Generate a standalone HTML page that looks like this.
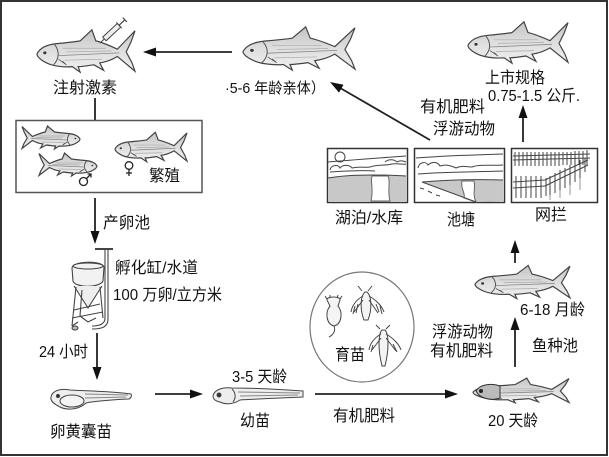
<!DOCTYPE html>
<html>
<head>
<meta charset="utf-8">
<style>
html,body{margin:0;padding:0;background:#fff;}
svg{display:block;}
text{font-family:"Liberation Sans","Noto Sans CJK SC","WenQuanYi Zen Hei",sans-serif;fill:#111;font-size:16px;}
</style>
</head>
<body>
<svg width="609" height="457" viewBox="0 0 609 457" xmlns="http://www.w3.org/2000/svg">
<defs>
  <linearGradient id="fg" x1="0" y1="0" x2="0" y2="1">
    <stop offset="0" stop-color="#c4c4c4"/>
    <stop offset="0.5" stop-color="#dedede"/>
    <stop offset="1" stop-color="#f0f0f0"/>
  </linearGradient>
  <g id="fish">
    <path d="M0,28 C3,22 10,18 20,17 C30,16 38,15 44,14 L56,2 L60,14 C68,16 76,20 82,23 L100,3 L96,15 L91,26 L97,38 L100,47 L82,31 C76,35 70,37 64,38 L68,46 L58,40 C52,41 46,42 42,42 L44,48 L36,42 C26,43 14,41 8,37 C3,34 0,31 0,28 Z" fill="url(#fg)" stroke="#444" stroke-width="1.2" vector-effect="non-scaling-stroke"/>
    <circle cx="8" cy="27" r="1.6" fill="#333"/>
    <path d="M18,18 C23,25 23,33 17,40" fill="none" stroke="#555" stroke-width="1" vector-effect="non-scaling-stroke"/>
    <path d="M22,30 C45,29 65,28 84,27" fill="none" stroke="#888" stroke-width="0.8" vector-effect="non-scaling-stroke"/>
    <path d="M26,22 L70,22 M28,35 L66,34 M30,26 L76,25" fill="none" stroke="#aaa" stroke-width="0.7" vector-effect="non-scaling-stroke"/>
    <path d="M22,34 L30,40 L26,36" fill="none" stroke="#555" stroke-width="0.8" vector-effect="non-scaling-stroke"/>
  </g>
</defs>

<rect x="1" y="1" width="606" height="454" fill="#fff" stroke="#333" stroke-width="2"/>

<!-- Fish 1 with syringe -->
<g transform="translate(37,28) scale(0.98,0.92)"><use href="#fish"/></g>
<g transform="translate(100,43) rotate(-43)">
  <rect x="6" y="-2.5" width="20" height="5" fill="#eee" stroke="#444" stroke-width="1"/>
  <line x1="0" y1="0" x2="6" y2="0" stroke="#444" stroke-width="1"/>
  <line x1="26" y1="0" x2="34" y2="0" stroke="#444" stroke-width="1.2"/>
  <line x1="34" y1="-3" x2="34" y2="3" stroke="#444" stroke-width="1.2"/>
  <line x1="26" y1="-4" x2="26" y2="4" stroke="#444" stroke-width="1"/>
</g>

<!-- Fish 2 -->
<g transform="translate(243,25) scale(1.12,0.94)"><use href="#fish"/></g>
<!-- Top right fish -->
<g transform="translate(468,20) scale(1.0,0.9)"><use href="#fish"/></g>

<!-- Arrow left -->
<line x1="232" y1="52" x2="154" y2="52" stroke="#222" stroke-width="1.8"/>
<polygon points="143,52 156,47.5 156,56.5" fill="#111"/>

<text x="53" y="93" textLength="64" lengthAdjust="spacingAndGlyphs">注射激素</text>
<text x="225" y="93" textLength="100" lengthAdjust="spacingAndGlyphs" style="font-size:15px">·5-6 年龄亲体）</text>

<!-- Arrow down to box -->
<line x1="95" y1="98" x2="95" y2="122" stroke="#222" stroke-width="1.8"/>
<polygon points="95,133 90.5,120 99.5,120" fill="#111"/>

<!-- Breeding box -->
<rect x="16" y="120.5" width="186" height="72" fill="#fff" stroke="#555" stroke-width="1.5"/>
<g transform="translate(80,125) scale(-0.58,0.5)"><use href="#fish"/></g>
<g transform="translate(97,152) scale(-0.58,0.5)"><use href="#fish"/></g>
<g transform="translate(115,131) scale(0.72,0.64)"><use href="#fish"/></g>
<!-- male symbol -->
<circle cx="83.5" cy="181.5" r="4" fill="none" stroke="#222" stroke-width="1.3"/>
<line x1="86.5" y1="178.5" x2="91" y2="174" stroke="#222" stroke-width="1.3"/>
<polyline points="87.5,174 91,174 91,177.5" fill="none" stroke="#222" stroke-width="1.3"/>
<!-- female symbol -->
<circle cx="129" cy="165.5" r="3.8" fill="none" stroke="#222" stroke-width="1.3"/>
<line x1="129" y1="169.3" x2="129" y2="176" stroke="#222" stroke-width="1.3"/>
<line x1="126" y1="173" x2="132" y2="173" stroke="#222" stroke-width="1.3"/>
<text x="149" y="181" textLength="31" lengthAdjust="spacingAndGlyphs">繁殖</text>

<!-- Arrow down to tank -->
<line x1="95" y1="198" x2="95" y2="233" stroke="#222" stroke-width="1.8"/>
<polygon points="95,244 90.5,231 99.5,231" fill="#111"/>
<text x="103" y="228" textLength="47" lengthAdjust="spacingAndGlyphs">产卵池</text>

<!-- Hatching tank -->
<g stroke="#444" stroke-width="1.1" fill="none">
  <line x1="95" y1="249" x2="113" y2="249" stroke-width="2"/>
  <path d="M105,250 L105,318 C105,324 100,326 92,326"/>
  <path d="M108,250 L108,319 C108,327 102,329 92,329"/>
  <path d="M72,268 C72,261 102,260 104,267 L103,281 C100,288 75,288 73,281 Z" fill="#f2f2f2"/>
  <ellipse cx="88" cy="266" rx="15" ry="3"/>
  <path d="M74,286 L88,308 L102,286" fill="#eee"/>
  <line x1="76" y1="287" x2="72" y2="326"/>
  <line x1="100" y1="287" x2="103" y2="318"/>
  <line x1="82" y1="290" x2="80" y2="316"/>
  <line x1="72" y1="318" x2="103" y2="312"/>
  <line x1="74" y1="310" x2="100" y2="304"/>
  <path d="M72,326 L78,322 M80,316 L88,322 L96,318"/>
  <ellipse cx="75" cy="328" rx="3" ry="2" fill="#bbb"/>
</g>
<text x="115" y="273" textLength="83" lengthAdjust="spacingAndGlyphs">孵化缸/水道</text>
<text x="113" y="300" textLength="109" lengthAdjust="spacingAndGlyphs">100 万卵/立方米</text>

<!-- Arrow down 24h -->
<line x1="97" y1="333" x2="97" y2="368" stroke="#222" stroke-width="1.8"/>
<polygon points="97,380 92.5,367 101.5,367" fill="#111"/>
<text x="39" y="357" textLength="49" lengthAdjust="spacingAndGlyphs">24 小时</text>

<!-- Yolk sac larva -->
<g stroke="#444" stroke-width="1" fill="#eee">
  <path d="M51,397 C52,391 60,388 70,390 C85,391 110,391 131,394 C132,396 131,398 129,399 C110,400 95,401 86,403 C80,409 68,411 60,407 C54,404 50,401 51,397 Z"/>
  <ellipse cx="72" cy="401" rx="12" ry="6" fill="#f4f4f4"/>
  <circle cx="58" cy="396" r="1.6" fill="#333"/>
  <path d="M85,394 L128,395 M85,398 L126,397" fill="none" stroke="#888"/>
</g>
<text x="50" y="437" textLength="62" lengthAdjust="spacingAndGlyphs">卵黄囊苗</text>

<!-- Arrow right 1 -->
<line x1="155" y1="394" x2="191" y2="394" stroke="#222" stroke-width="1.8"/>
<polygon points="203,394 190,389.5 190,398.5" fill="#111"/>

<!-- Larva -->
<g stroke="#444" stroke-width="1" fill="#eee">
  <path d="M213,396 C214,390 222,387 232,388 C250,388 275,389 303,391 L303,397 C280,398 255,399 240,400 C234,404 226,405 220,402 C215,401 213,399 213,396 Z"/>
  <circle cx="219" cy="395" r="2" fill="#333"/>
  <path d="M232,389 C236,393 236,398 233,402" fill="none"/>
  <path d="M238,392 L300,393 M240,396 L298,395" fill="none" stroke="#888"/>
</g>
<text x="232" y="382" textLength="55" lengthAdjust="spacingAndGlyphs">3-5 天龄</text>
<text x="240" y="426" textLength="30" lengthAdjust="spacingAndGlyphs">幼苗</text>

<!-- Circle with plankton -->
<ellipse cx="362" cy="327" rx="52" ry="55" fill="#fff" stroke="#777" stroke-width="1.2"/>
<g stroke="#444" stroke-width="1" fill="none">
  <!-- rotifer -->
  <path d="M327,300 C326,296 341,296 340,300 L338,306 C343,312 342,324 334,326 C326,324 325,312 330,306 Z" fill="#f4f4f4"/>
  <path d="M327,299 L325,296 M330,298 L330,295 M337,298 L338,295 M340,299 L342,296"/>
  <path d="M334,326 C336,331 333,335 329,337"/>
  <!-- crustacean 1 -->
  <path d="M365,292 C360,296 360,310 364,320 L368,320 C372,310 372,296 367,292 Z" fill="#f4f4f4"/>
  <path d="M363,296 C356,300 352,306 351,312 M369,296 C376,300 382,306 384,312 M363,300 L354,312 M369,300 L378,313 M362,291 L358,286 M368,291 L372,286"/>
  <path d="M355,306 L353,314 M358,304 L356,313 M376,304 L379,312 M380,306 L382,314"/>
  <!-- crustacean 2 -->
  <path d="M382,330 C378,334 378,350 382,366 L385,366 C389,350 389,334 385,330 Z" fill="#f4f4f4"/>
  <path d="M381,334 C374,338 370,344 369,350 M386,334 C393,338 399,344 401,350 M381,338 L372,350 M386,338 L396,351 M380,329 L376,325 M386,329 L390,325"/>
  <path d="M373,345 L371,352 M393,344 L397,352"/>
</g>
<text x="335" y="360" textLength="30" lengthAdjust="spacingAndGlyphs">育苗</text>

<!-- Arrow right 2 -->
<line x1="315" y1="394" x2="446" y2="394" stroke="#222" stroke-width="1.8"/>
<polygon points="458,394 445,389.5 445,398.5" fill="#111"/>
<text x="333" y="421" textLength="62" lengthAdjust="spacingAndGlyphs">有机肥料</text>

<!-- 20-day fish -->
<g transform="translate(473,377) scale(0.96,0.54)"><use href="#fish"/></g>
<path d="M476,391 C480,384 492,383 500,386 L500,398 C492,401 480,399 476,391 Z" fill="#bbb" stroke="#333" stroke-width="1"/>
<circle cx="481" cy="391" r="2" fill="#222"/>
<text x="488" y="426" textLength="50" lengthAdjust="spacingAndGlyphs">20 天龄</text>

<!-- Arrow up 1 -->
<line x1="515" y1="367" x2="515" y2="328" stroke="#222" stroke-width="1.8"/>
<polygon points="515,317 510.5,330 519.5,330" fill="#111"/>
<text x="432" y="337" textLength="61" lengthAdjust="spacingAndGlyphs">浮游动物</text>
<text x="430" y="356" textLength="63" lengthAdjust="spacingAndGlyphs">有机肥料</text>
<text x="532" y="351" textLength="46" lengthAdjust="spacingAndGlyphs">鱼种池</text>

<!-- 6-18 month fish -->
<g transform="translate(475,264) scale(0.95,0.72)"><use href="#fish"/></g>
<text x="520" y="315" textLength="65" lengthAdjust="spacingAndGlyphs">6-18 月龄</text>

<!-- Arrow up 2 -->
<line x1="515" y1="263" x2="515" y2="251" stroke="#222" stroke-width="1.8"/>
<polygon points="515,240 510.5,253 519.5,253" fill="#111"/>

<!-- Box 1 lake -->
<g stroke="#444" stroke-width="1" fill="none">
  <rect x="327.5" y="148.5" width="80" height="54" fill="#fff" stroke="#333" stroke-width="1.5"/>
  <path d="M328,178 C345,175 370,174 406,176 L406,201 L328,201 Z" fill="#c8c8c8" stroke="none"/>
  <path d="M372,176 C370,182 374,188 371,201 L390,201 C387,190 391,182 388,176 Z" fill="#fff" stroke="#666"/>
  <path d="M328,178 C345,175 370,174 406,176"/>
  <circle cx="340" cy="157" r="5"/>
  <path d="M328,162 C350,160 380,158 406,156"/>
  <path d="M330,170 C331,165 338,164 340,168 C343,164 350,165 352,168 C360,166 365,168 370,167 C378,164 385,166 392,164 C398,163 403,165 406,164"/>
  <path d="M330,172 C345,171 360,170 375,171"/>
  <path d="M385,162 C388,159 394,159 397,162 C400,160 404,161 406,162"/>
</g>
<!-- Box 2 pond -->
<g stroke="#444" stroke-width="1" fill="none">
  <rect x="414.5" y="148.5" width="90" height="54" fill="#fff" stroke="#333" stroke-width="1.5"/>
  <path d="M422,182 C445,180 470,179 503,180 L503,201 L476,202 Z" fill="#c8c8c8" stroke="none"/>
  <path d="M462,181 C460,188 466,194 464,198 L476,202 C472,194 476,188 474,181 Z" fill="#fff" stroke="#666"/>
  <path d="M422,182 L476,202"/>
  <path d="M422,182 C445,180 470,179 503,180"/>
  <path d="M416,158 C440,156 470,155 503,154"/>
  <path d="M418,168 C419,162 426,161 428,165 C432,161 438,162 440,166 C446,164 452,166 456,168 C462,165 468,167 472,167 C480,164 490,166 503,165"/>
  <path d="M418,174 C440,172 470,172 503,171"/>
  <path d="M420,188 L424,189 M428,191 L432,193 M436,195 L440,196"/>
</g>
<!-- Box 3 fence -->
<g stroke="#444" stroke-width="1" fill="none">
  <rect x="511.5" y="148.5" width="86" height="54" fill="#fff" stroke="#333" stroke-width="1.5"/>
  <path d="M513,156 L590,154 M513,160 L590,158"/>
  <path d="M515,152 L515,166 M519,152 L519,166 M523,152 L523,166 M527,152 L527,166 M531,152 L531,166 M535,152 L535,166 M539,152 L539,166 M543,152 L543,166 M547,152 L547,166 M551,152 L551,166 M555,152 L555,166 M559,152 L559,166 M563,152 L563,165 M567,152 L567,165 M571,152 L571,165 M575,151 L575,165 M579,151 L579,165 M583,151 L583,165 M587,150 L587,165"/>
  <path d="M588,160 L545,180 M588,165 L545,186"/>
  <path d="M585,158 L585,172 M580,160 L580,178 M575,163 L575,182 M570,165 L570,185 M565,168 L565,188 M560,170 L560,190 M555,173 L555,193 M550,176 L550,195 M546,178 L546,196"/>
  <path d="M513,182 L545,180 M513,188 L545,186"/>
  <path d="M516,176 L516,198 M521,176 L521,198 M526,176 L526,198 M531,176 L531,198 M536,176 L536,198 M541,176 L541,198"/>
  <path d="M550,195 L550,200 M560,190 L560,198 M570,185 L570,195 M580,178 L580,190" stroke="#999"/>
</g>
<text x="335" y="223" textLength="68" lengthAdjust="spacingAndGlyphs">湖泊/水库</text>
<text x="447" y="225" textLength="28" lengthAdjust="spacingAndGlyphs">池塘</text>
<text x="535" y="220" textLength="32" lengthAdjust="spacingAndGlyphs">网拦</text>

<!-- Diagonal arrow -->
<line x1="430" y1="140" x2="341" y2="88.5" stroke="#222" stroke-width="1.8"/>
<polygon points="330,82 343.5,84.8 339,92.6" fill="#111"/>
<text x="420" y="112" textLength="65" lengthAdjust="spacingAndGlyphs">有机肥料</text>
<text x="433" y="134" textLength="62" lengthAdjust="spacingAndGlyphs">浮游动物</text>

<!-- Arrow up to market -->
<line x1="523" y1="142" x2="523" y2="116" stroke="#222" stroke-width="1.8"/>
<polygon points="523,105 518.5,118 527.5,118" fill="#111"/>
<text x="485" y="83" textLength="60" lengthAdjust="spacingAndGlyphs">上市规格</text>
<text x="488" y="101" textLength="92" lengthAdjust="spacingAndGlyphs">0.75-1.5 公斤.</text>
</svg>
</body>
</html>
